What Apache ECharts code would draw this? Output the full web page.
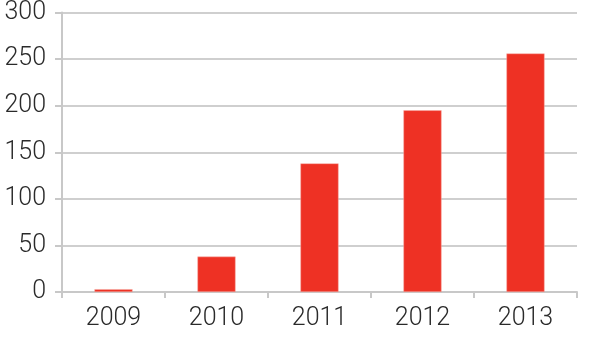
<!DOCTYPE html>
<html><head><meta charset="utf-8">
<script src="https://cdn.jsdelivr.net/npm/echarts@6/dist/echarts.min.js"></script>
<style>html,body{margin:0;padding:0;background:#fff}#c{width:600px;height:352px}</style>
</head><body><div id="c"></div>
<script>
const categories = ['2009', '2010', '2011', '2012', '2013'];
const values = [3, 38, 138, 195, 256];
const yTicks = [0, 50, 100, 150, 200, 250, 300];

const chart = echarts.init(document.getElementById('c'));
const font = 'Roboto, "DejaVu Sans Condensed", sans-serif';
chart.setOption({
  animation: false,
  grid: { left: 62, right: 23, top: 11, bottom: 60, containLabel: false },
  xAxis: {
    type: 'category',
    data: categories,
    axisLine: { lineStyle: { color: '#c8c8c8', width: 2 } },
    axisTick: { show: true, length: 6, lineStyle: { color: '#c8c8c8', width: 2 } },
    axisLabel: { color: '#2a2a2a', fontSize: 25, fontWeight: 300, fontFamily: font, margin: 14 }
  },
  yAxis: {
    type: 'value',
    min: yTicks[0], max: yTicks[yTicks.length - 1], interval: 50,
    axisLine: { show: true, lineStyle: { color: '#c8c8c8', width: 2 } },
    axisTick: { show: true, length: 7, lineStyle: { color: '#c8c8c8', width: 2 } },
    splitLine: { lineStyle: { color: '#cfcfcf', width: 2 } },
    axisLabel: { color: '#2a2a2a', fontSize: 25, fontWeight: 300, fontFamily: font, margin: 16, padding: [8, 0, 0, 0] }
  },
  series: [{
    type: 'bar',
    data: values,
    barWidth: '37%',
    itemStyle: { color: '#ee3124', borderColor: '#f6b0a8', borderWidth: 0.5 }
  }]
});
</script></body></html>
